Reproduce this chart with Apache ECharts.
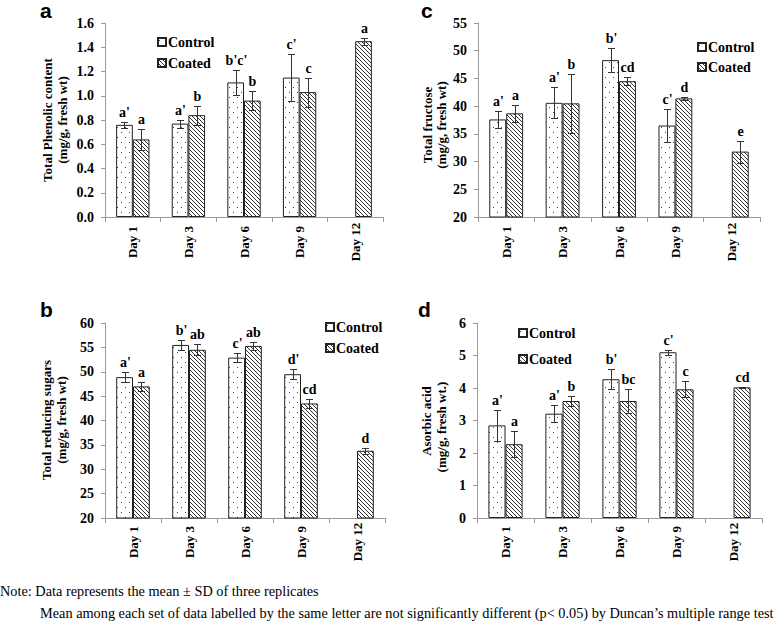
<!DOCTYPE html>
<html>
<head>
<meta charset="utf-8">
<script src="https://cdn.jsdelivr.net/npm/echarts@6/dist/echarts.min.js"></script>
<style>
html,body{margin:0;padding:0;background:#fff;}
#chart{width:777px;height:626px;}
</style>
</head>
<body>
<div id="chart"></div>
<script>
// ---------- data ----------
const days = ['Day 1', 'Day 3', 'Day 6', 'Day 9', 'Day 12'];
const seriesNames = ['Control', 'Coated'];

// a: Total phenolic content
const phenolControl   = [0.76, 0.77, 1.11, 1.15, null];
const phenolControlSD = [0.024, 0.033, 0.10, 0.195, null];
const phenolCoated    = [0.64, 0.84, 0.96, 1.03, 1.45];
const phenolCoatedSD  = [0.085, 0.078, 0.08, 0.12, 0.03];
const phenolControlLetters = ["a'", "a'", "b'c'", "c'", ""];
const phenolCoatedLetters  = ["a", "b", "b", "c", "a"];

// b: Total reducing sugars
const sugarControl   = [48.9, 55.5, 52.9, 49.5, null];
const sugarControlSD = [1.0, 1.1, 1.0, 1.0, null];
const sugarCoated    = [47.0, 54.5, 55.3, 43.5, 33.8];
const sugarCoatedSD  = [0.9, 1.1, 0.9, 0.9, 0.6];
const sugarControlLetters = ["a'", "b'", "c'", "d'", ""];
const sugarCoatedLetters  = ["a", "ab", "ab", "cd", "d"];

// c: Total fructose
const fructControl   = [37.6, 40.6, 48.3, 36.5, null];
const fructControlSD = [1.5, 2.8, 2.1, 2.9, null];
const fructCoated    = [38.7, 40.5, 44.5, 41.4, 31.8];
const fructCoatedSD  = [1.55, 5.3, 0.75, 0.3, 2.0];
const fructControlLetters = ["a'", "a'", "b'", "c'", ""];
const fructCoatedLetters  = ["a", "b", "cd", "d", "e"];

// d: Ascorbic acid
const ascControl   = [2.85, 3.21, 4.27, 5.10, null];
const ascControlSD = [0.47, 0.27, 0.31, 0.08, null];
const ascCoated    = [2.27, 3.60, 3.60, 3.96, 4.02];
const ascCoatedSD  = [0.40, 0.15, 0.36, 0.25, 0.02];
const ascControlLetters = ["a'", "a'", "b'", "c'", ""];
const ascCoatedLetters  = ["a", "b", "bc", "c", "cd"];

// axis ranges
const phenolAxis = {min: 0, max: 1.6, interval: 0.2};
const sugarAxis  = {min: 20, max: 60, interval: 5};
const fructAxis  = {min: 20, max: 55, interval: 5};
const ascAxis    = {min: 0, max: 6, interval: 1};

// ---------- styles ----------
const SERIF = 'Liberation Serif, Times New Roman, serif';
const SANS = 'Liberation Sans, Arial, sans-serif';
const BAR = 0.30;
const AXIS_GRAY = '#9a9a9a';

function makePattern(kind) {
  const c = document.createElement('canvas');
  if (kind === 'dots') {
    c.width = 8; c.height = 10;
    const g = c.getContext('2d');
    g.fillStyle = '#fff'; g.fillRect(0, 0, 8, 10);
    g.fillStyle = '#444';
    g.fillRect(1, 2, 1, 1);
    g.fillRect(5, 7, 1, 1);
  } else {
    c.width = 4; c.height = 4;
    const g = c.getContext('2d');
    g.fillStyle = '#fff'; g.fillRect(0, 0, 4, 4);
    g.strokeStyle = '#333'; g.lineWidth = 1;
    g.beginPath();
    g.moveTo(-1, -1); g.lineTo(5, 5);
    g.moveTo(-1, 3); g.lineTo(1, 5);
    g.moveTo(3, -1); g.lineTo(5, 1);
    g.stroke();
  }
  return {image: c, repeat: 'repeat', imageWidth: c.width, imageHeight: c.height};
}
const dotFill = makePattern('dots');
const hatchFill = makePattern('hatch');

// ---------- layout ----------
const grids = [
  {left: 105, top: 23, width: 278, height: 194},  // a
  {left: 105, top: 323, width: 280, height: 195}, // b
  {left: 478, top: 23, width: 282, height: 194},  // c
  {left: 477, top: 323, width: 285, height: 195}  // d
];
const legendPos = [
  {left: 157, top: 35, itemGap: 7},
  {left: 325, top: 320, itemGap: 7},
  {left: 697, top: 40, itemGap: 6},
  {left: 518, top: 326, itemGap: 12}
];
const dayLabelOffset = [25, 24, 25, 24];

const panels = [
  {axis: phenolAxis, fmt: v => v.toFixed(1),
   ctrl: phenolControl, ctrlSD: phenolControlSD, coat: phenolCoated, coatSD: phenolCoatedSD,
   ctrlL: phenolControlLetters, coatL: phenolCoatedLetters},
  {axis: sugarAxis, fmt: v => String(v),
   ctrl: sugarControl, ctrlSD: sugarControlSD, coat: sugarCoated, coatSD: sugarCoatedSD,
   ctrlL: sugarControlLetters, coatL: sugarCoatedLetters},
  {axis: fructAxis, fmt: v => String(v),
   ctrl: fructControl, ctrlSD: fructControlSD, coat: fructCoated, coatSD: fructCoatedSD,
   ctrlL: fructControlLetters, coatL: fructCoatedLetters},
  {axis: ascAxis, fmt: v => String(v),
   ctrl: ascControl, ctrlSD: ascControlSD, coat: ascCoated, coatSD: ascCoatedSD,
   ctrlL: ascControlLetters, coatL: ascCoatedLetters}
];

const xAxes = [], yAxes = [], series = [], legends = [];

function errorSeries(gi, means, sds, letters, sign) {
  const data = [], labs = [];
  means.forEach((m, i) => {
    if (m == null) return;
    data.push([i, m, sds[i]]);
    labs.push(letters[i]);
  });
  return {
    type: 'custom', name: 'err' + gi + sign, xAxisIndex: gi, yAxisIndex: gi, z: 5,
    silent: true, clip: false,
    data: data,
    renderItem: function (params, api) {
      const i = api.value(0), m = api.value(1), sd = api.value(2);
      const band = api.size([1, 0])[0];
      const off = sign * band * BAR / 2;
      const t = api.coord([i, m + sd]);
      const b = api.coord([i, m - sd]);
      const x = Math.round(t[0] + off) + 0.5;
      const ty = Math.round(t[1]) + 0.5, by = Math.round(b[1]) + 0.5;
      const ls = {stroke: '#333', lineWidth: 1};
      return {
        type: 'group',
        children: [
          {type: 'line', shape: {x1: x, y1: ty, x2: x, y2: by}, style: ls},
          {type: 'line', shape: {x1: x - 3.5, y1: ty, x2: x + 3.5, y2: ty}, style: ls},
          {type: 'line', shape: {x1: x - 3.5, y1: by, x2: x + 3.5, y2: by}, style: ls},
          {type: 'text', style: {
            text: labs[params.dataIndex], x: x, y: ty - 3,
            textAlign: 'center', textVerticalAlign: 'bottom',
            fontFamily: SERIF, fontWeight: 'bold', fontSize: 14, fill: '#000'}}
        ]
      };
    }
  };
}

panels.forEach((p, gi) => {
  xAxes.push({
    type: 'category', gridIndex: gi, data: days,
    axisLine: {lineStyle: {color: AXIS_GRAY, width: 1}},
    axisTick: {show: true, length: 5, lineStyle: {color: AXIS_GRAY}},
    axisLabel: {rotate: 90, align: 'center', verticalAlign: 'middle',
                margin: dayLabelOffset[gi], color: '#000', fontFamily: SERIF,
                fontWeight: 'bold', fontSize: 13}
  });
  yAxes.push({
    type: 'value', gridIndex: gi, min: p.axis.min, max: p.axis.max, interval: p.axis.interval,
    splitLine: {show: false},
    axisLine: {show: true, lineStyle: {color: AXIS_GRAY, width: 1}},
    axisTick: {show: true, length: 4, lineStyle: {color: AXIS_GRAY}},
    axisLabel: {margin: 11, color: '#000', fontFamily: SERIF, fontWeight: 'bold',
                fontSize: 14, formatter: p.fmt}
  });
  series.push({
    type: 'bar', name: 'Control', xAxisIndex: gi, yAxisIndex: gi,
    data: p.ctrl, barWidth: (BAR * 100) + '%', barGap: '0%',
    itemStyle: {color: dotFill, borderColor: '#222', borderWidth: 1}
  });
  series.push({
    type: 'bar', name: 'Coated', xAxisIndex: gi, yAxisIndex: gi,
    data: p.coat, barWidth: (BAR * 100) + '%', barGap: '0%',
    itemStyle: {color: hatchFill, borderColor: '#222', borderWidth: 1}
  });
  series.push(errorSeries(gi, p.ctrl, p.ctrlSD, p.ctrlL, -1));
  series.push(errorSeries(gi, p.coat, p.coatSD, p.coatL, 1));
  const lp = legendPos[gi];
  legends.push({
    data: seriesNames, orient: 'vertical', left: lp.left, top: lp.top,
    itemGap: lp.itemGap, itemWidth: 8, itemHeight: 8, padding: 0, icon: 'rect',
    selectedMode: false,
    textStyle: {fontFamily: SERIF, fontWeight: 'bold', fontSize: 14, color: '#000',
                padding: [0, 0, 0, -3]}
  });
});

function vtext(x, y, text, size, weight) {
  return {type: 'text', x: x, y: y, rotation: Math.PI / 2, silent: true,
          style: {text: text, textAlign: 'center', textVerticalAlign: 'middle',
                  fontFamily: SERIF, fontWeight: weight || 'bold', fontSize: size, fill: '#000'}};
}
function htext(x, y, text, family, size, weight) {
  return {type: 'text', x: x, y: y, silent: true,
          style: {text: text, textAlign: 'left', textVerticalAlign: 'middle',
                  fontFamily: family, fontWeight: weight || 'normal', fontSize: size, fill: '#000'}};
}

const graphics = [
  htext(40, 10, 'a', SANS, 21, 'bold'),
  htext(40, 309, 'b', SANS, 21, 'bold'),
  htext(421, 10, 'c', SANS, 21, 'bold'),
  htext(418, 309, 'd', SANS, 21, 'bold'),
  vtext(47, 120, 'Total Phenolic content', 13),
  vtext(62, 120, '(mg/g, fresh wt)', 13),
  vtext(46, 420, 'Total reducing sugars', 13),
  vtext(61, 420, '(mg/g, fresh wt)', 13),
  vtext(427, 125, 'Total fructose', 13),
  vtext(441, 125, '(mg/g, fresh wt)', 13),
  vtext(426, 421, 'Asorbic acid', 13),
  vtext(441, 427, '(mg/g, fresh wt.)', 13),
  htext(0, 591, 'Note: Data represents the mean \u00b1 SD of three replicates', SERIF, 14.3),
  htext(40, 613, 'Mean among each set of data labelled by the same letter are not significantly different (p< 0.05) by Duncan\u2019s multiple range test', SERIF, 14.3)
];

const chart = echarts.init(document.getElementById('chart'), null, {renderer: 'svg'});
chart.setOption({
  animation: false,
  backgroundColor: '#fff',
  grid: grids,
  xAxis: xAxes,
  yAxis: yAxes,
  legend: legends,
  series: series,
  graphic: graphics
});
</script>
</body>
</html>
